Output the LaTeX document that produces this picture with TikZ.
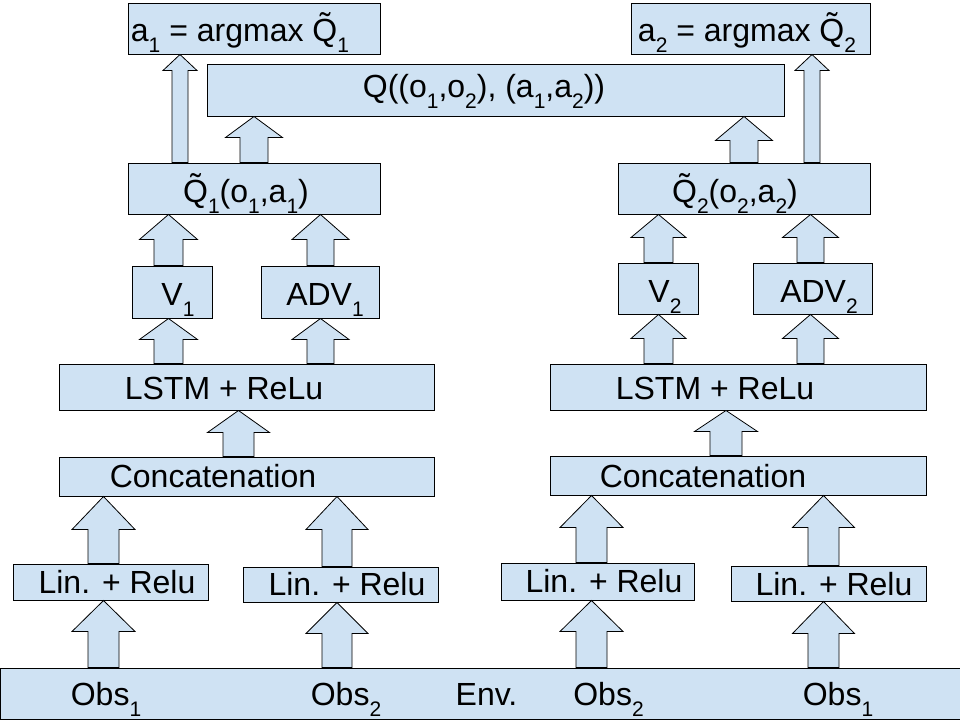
\documentclass[tikz,border=0pt]{standalone}
\usepackage{fontspec}
\setmainfont{Liberation Sans}
\usetikzlibrary{calc}

\definecolor{boxblue}{RGB}{207,226,243}

% lowered small index, as the drawing tool sets it
\newcommand\idx[1]{\raisebox{-11pt}{\fontsize{21}{21}\selectfont #1}}
\newcommand\qt{\~{Q}}

\tikzset{
  box/.style={draw, fill=boxblue, line width=1pt, inner sep=0pt},
  lbl/.style={anchor=base, inner sep=0pt, font=\fontsize{32}{36}\selectfont},
  fatarrow/.style={draw, fill=boxblue, line width=0.8pt, line join=miter}
}

% #1 from, #2 to, #3 x centre, #4 shaft half width, #5 head half width, #6 head length
\newcommand\fatarrow[6]{%
  \draw[fatarrow] let \p1=(#1.north), \p2=(#2.south) in
    (#3-#4,\y1) -- (#3-#4,\y2-#6pt) -- (#3-#5,\y2-#6pt) -- (#3,\y2)
    -- (#3+#5,\y2-#6pt) -- (#3+#4,\y2-#6pt) -- (#3+#4,\y1) -- cycle;
}

\begin{document}
\begin{tikzpicture}[x=1pt, y=-1pt]
  \useasboundingbox (0,0) rectangle (960,720);

  % boxes
  \node[box, minimum width=252, minimum height=51] (a1) at (254,28.5) {};
  \node[box, minimum width=239, minimum height=51] (a2) at (750.5,28.5) {};
  \node[box, minimum width=577, minimum height=52] (q) at (495.5,90) {};
  \node[box, minimum width=252, minimum height=51] (q1t) at (254,188.5) {};
  \node[box, minimum width=252, minimum height=51] (q2t) at (744,188.5) {};
  \node[box, minimum width=80, minimum height=52] (v1) at (172,292) {};
  \node[box, minimum width=118, minimum height=52] (adv1) at (320,292) {};
  \node[box, minimum width=80, minimum height=51] (v2) at (658,288.5) {};
  \node[box, minimum width=119, minimum height=51] (adv2) at (812.5,288.5) {};
  \node[box, minimum width=375, minimum height=46] (lstm1) at (246.5,387) {};
  \node[box, minimum width=376, minimum height=46] (lstm2) at (738,387) {};
  \node[box, minimum width=375, minimum height=39] (cat1) at (246.5,476.5) {};
  \node[box, minimum width=376, minimum height=39] (cat2) at (738,475.5) {};
  \node[box, minimum width=195, minimum height=36] (lin1) at (110.5,582) {};
  \node[box, minimum width=195, minimum height=35] (lin2) at (340.5,584.5) {};
  \node[box, minimum width=193, minimum height=37] (lin3) at (597.5,581.5) {};
  \node[box, minimum width=195, minimum height=35] (lin4) at (828.5,583.5) {};
  \node[box, minimum width=975, minimum height=51] (env) at (487.5,693.5) {};

  % texts
  \node[lbl] (a1txt) at (240,41) {a\idx{1} = argmax \qt\idx{1}};
  \node[lbl] (a2txt) at (747,41) {a\idx{2} = argmax \qt\idx{2}};
  \node[lbl] (qtxt) at (484,97) {Q((o\idx{1},o\idx{2}), (a\idx{1},a\idx{2}))};
  \node[lbl] (q1txt) at (246,202) {\qt\idx{1}(o\idx{1},a\idx{1})};
  \node[lbl] (q2txt) at (735,202) {\qt\idx{2}(o\idx{2},a\idx{2})};
  \node[lbl] (v1txt) at (178,305) {V\idx{1}};
  \node[lbl] (adv1txt) at (325,305) {ADV\idx{1}};
  \node[lbl] (v2txt) at (665,302) {V\idx{2}};
  \node[lbl] (adv2txt) at (819,302) {ADV\idx{2}};
  \node[lbl] (lstm1txt) at (224,399) {LSTM + ReLu};
  \node[lbl] (lstm2txt) at (715,399) {LSTM + ReLu};
  \node[lbl] (cat1txt) at (213,487) {Concatenation};
  \node[lbl] (cat2txt) at (703,487) {Concatenation};
  \node[lbl] (lin1txt) at (117,593) {Lin. + Relu};
  \node[lbl] (lin2txt) at (347,595) {Lin. + Relu};
  \node[lbl] (lin3txt) at (604,592) {Lin. + Relu};
  \node[lbl] (lin4txt) at (834,595) {Lin. + Relu};
  \node[lbl] (obs1l) at (106,705) {Obs\idx{1}};
  \node[lbl] (obs2l) at (346,705) {Obs\idx{2}};
  \node[lbl] (envtxt) at (486.5,705) {Env.};
  \node[lbl] (obs2r) at (608.5,705) {Obs\idx{2}};
  \node[lbl] (obs1r) at (838,705) {Obs\idx{1}};

  % block arrows
  \fatarrow{q1t}{a1}{180}{8}{17}{16}
  \fatarrow{q1t}{q}{254}{14}{28.5}{21}
  \fatarrow{q2t}{q}{744}{14}{28.5}{24}
  \fatarrow{q2t}{a2}{812}{8}{17}{16}
  \fatarrow{v1}{q1t}{168.5}{14.5}{29}{25}
  \fatarrow{adv1}{q1t}{320.5}{13.5}{28.5}{25}
  \fatarrow{lstm1}{v1}{168.5}{14.5}{29}{21}
  \fatarrow{lstm1}{adv1}{320.5}{13.5}{28.5}{21}
  \fatarrow{v2}{q2t}{658.5}{14.5}{27.5}{23}
  \fatarrow{adv2}{q2t}{810.5}{13.5}{28}{23}
  \fatarrow{lstm2}{v2}{658.5}{14.5}{27.5}{24}
  \fatarrow{lstm2}{adv2}{810.5}{13.5}{28}{24}
  \fatarrow{cat1}{lstm1}{238.5}{15.5}{31}{22}
  \fatarrow{cat2}{lstm2}{726}{16}{31.5}{21}
  \fatarrow{lin1}{cat1}{103.5}{15.5}{31.5}{33}
  \fatarrow{lin2}{cat1}{337}{15}{31}{33}
  \fatarrow{lin3}{cat2}{591.5}{15.5}{31.5}{32}
  \fatarrow{lin4}{cat2}{823.5}{15.5}{31}{32}
  \fatarrow{env}{lin1}{103.5}{15.5}{31.5}{31}
  \fatarrow{env}{lin2}{337}{15}{31}{31}
  \fatarrow{env}{lin3}{591.5}{15.5}{31.5}{31}
  \fatarrow{env}{lin4}{823.5}{15.5}{31}{32}
\end{tikzpicture}
\end{document}
